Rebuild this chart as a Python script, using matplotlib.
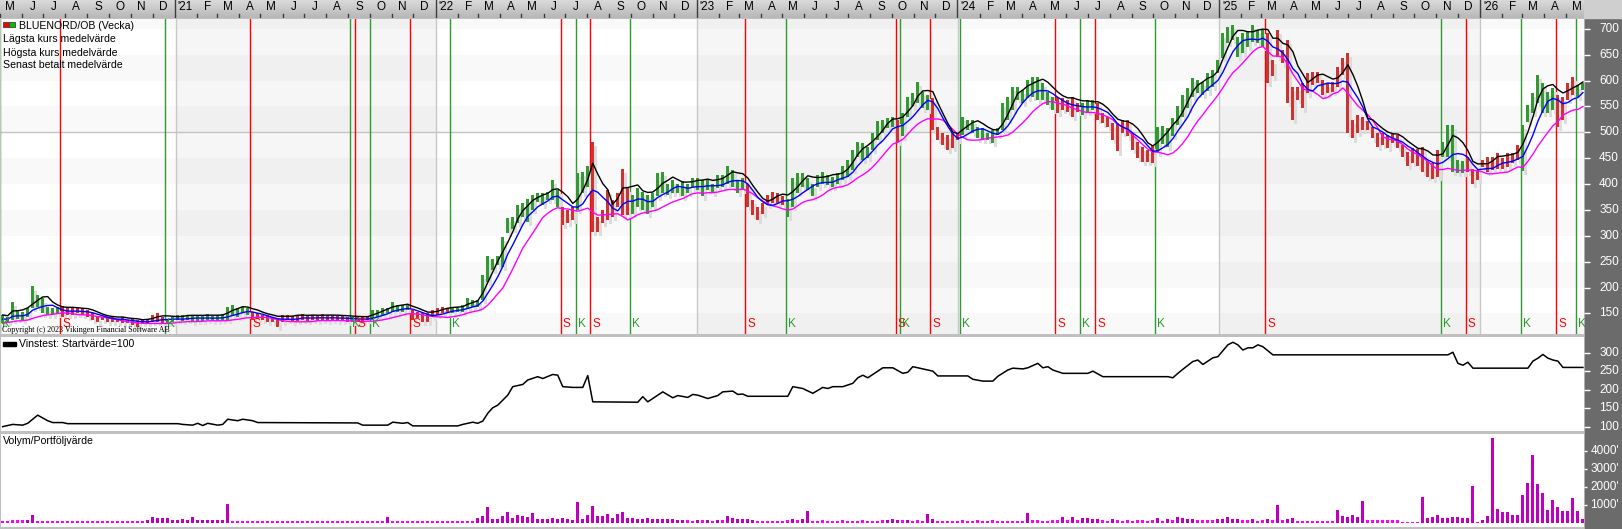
import numpy as np
import pandas as pd
import matplotlib
matplotlib.use('Agg')
import matplotlib.pyplot as plt
import matplotlib.dates as mdates
from matplotlib.patches import Rectangle
from matplotlib.colors import LinearSegmentedColormap
from matplotlib.transforms import blended_transform_factory

plt.rcParams['font.family'] = ['Liberation Sans', 'DejaVu Sans']

########################################
# data (weekly bars)

first_week = '2020-05-04'

low_2020 = [131, 134, 137, 140, 137, 144, 160, 163, 150, 147, 147, 150, 144, 147, 147, 150, 147, 144,
            137, 134, 137, 134, 134, 134, 131, 131, 128, 124, 131, 131, 134, 134, 131, 131, 134]
high_2020 = [147, 144, 173, 157, 153, 160, 202, 186, 179, 163, 160, 163, 164, 160, 160, 160, 160, 157,
             150, 144, 144, 144, 144, 140, 144, 137, 140, 137, 137, 140, 147, 150, 144, 140, 144]

low_2021 = [137, 135, 137, 134, 136, 135, 137, 135, 136, 137, 137, 147, 144, 150, 147, 137, 140, 137,
            134, 134, 124, 134, 137, 134, 136, 137, 135, 137, 136, 137, 135, 137, 136, 135, 134, 134,
            133, 134, 137, 137, 144, 147, 150, 153, 153, 153, 157, 137, 141, 134, 134, 144]
high_2021 = [147, 146, 147, 145, 147, 146, 148, 145, 147, 148, 163, 166, 160, 163, 160, 153, 150, 147,
             147, 144, 140, 147, 147, 145, 147, 148, 145, 147, 146, 148, 146, 147, 145, 146, 144, 144,
             143, 144, 144, 157, 157, 160, 160, 173, 166, 166, 166, 157, 153, 150, 150, 157]

low_2022 = [147, 150, 150, 150, 152, 153, 160, 163, 163, 176, 211, 234, 244, 240, 305, 314, 324, 337,
            327, 350, 366, 360, 369, 369, 356, 321, 324, 331, 350, 382, 395, 308, 308, 324, 331, 337,
            356, 340, 340, 343, 356, 350, 343, 356, 376, 382, 379, 382, 382, 376, 382, 392]
high_2022 = [160, 163, 160, 163, 163, 166, 179, 176, 176, 225, 261, 256, 261, 298, 334, 337, 360, 363,
             372, 379, 382, 382, 385, 408, 388, 356, 350, 356, 421, 424, 434, 482, 337, 350, 388, 369,
             382, 430, 392, 379, 392, 385, 379, 382, 421, 424, 401, 408, 401, 405, 401, 411]

low_2023 = [388, 376, 388, 382, 392, 395, 401, 395, 382, 388, 356, 340, 331, 343, 360, 363, 363, 360,
            337, 356, 382, 395, 389, 376, 395, 401, 398, 395, 401, 408, 414, 427, 453, 446, 450, 466,
            485, 498, 508, 511, 482, 492, 530, 550, 556, 546, 543, 504, 485, 475, 466, 469]
high_2023 = [411, 408, 408, 401, 417, 417, 434, 427, 408, 411, 401, 369, 356, 363, 379, 385, 382, 376,
             372, 411, 421, 421, 411, 401, 417, 424, 417, 414, 421, 434, 446, 466, 482, 479, 472, 498,
             521, 524, 527, 530, 524, 537, 569, 575, 598, 578, 572, 566, 511, 498, 495, 498]

low_2024 = [485, 495, 504, 498, 488, 485, 485, 479, 495, 504, 524, 543, 562, 556, 566, 569, 562, 562,
            553, 543, 537, 543, 540, 530, 540, 533, 540, 543, 524, 517, 511, 485, 463, 498, 492, 466,
            450, 443, 443, 440, 461, 478, 472, 493, 514, 530, 546, 569, 575, 572, 579, 588, 614]
high_2024 = [498, 530, 524, 524, 511, 508, 498, 504, 508, 556, 569, 588, 588, 582, 601, 607, 607, 595,
             578, 569, 569, 566, 562, 569, 556, 556, 562, 562, 556, 537, 530, 517, 517, 524, 524, 498,
             482, 472, 466, 475, 510, 512, 508, 527, 551, 573, 586, 605, 601, 598, 614, 620, 640]

low_2025 = [643, 672, 678, 646, 653, 665, 675, 672, 665, 595, 608, 646, 633, 556, 524, 562, 546, 575,
            591, 595, 572, 575, 578, 588, 611, 498, 488, 498, 504, 504, 488, 472, 475, 469, 479, 469,
            453, 435, 440, 435, 424, 413, 410, 414, 453, 453, 424, 421, 421, 424, 401, 408]
high_2025 = [691, 704, 707, 685, 691, 694, 707, 698, 698, 691, 640, 698, 659, 678, 588, 588, 595, 614,
             617, 617, 601, 595, 598, 627, 643, 653, 524, 533, 530, 521, 511, 498, 498, 495, 498, 495,
             476, 462, 470, 468, 472, 445, 440, 466, 482, 514, 514, 447, 445, 453, 430, 427]

low_2026 = [433, 424, 427, 430, 430, 433, 440, 447, 425, 520, 537, 556, 537, 537, 543, 510, 524, 563,
            572, 568, 582]
high_2026 = [447, 453, 453, 460, 450, 460, 460, 475, 514, 553, 576, 611, 595, 578, 585, 572, 569, 595,
             607, 592, 595]

# weekly volume, thousands of shares
volume_k = [120, 130, 140, 140, 140, 150, 440, 120, 120, 110,
            90, 90, 90, 90, 90, 90, 90, 90, 90, 90, 90, 90, 90, 90, 90, 90, 90, 90, 90,
            170, 350, 260, 300, 300, 170, 170, 220, 170, 350, 170, 150, 150, 160, 150, 150,
            1060, 130,
            90, 90, 90, 90, 90, 90, 90, 90, 90, 90, 90, 90, 90, 90, 90, 90, 90, 90, 90, 90,
            90, 90, 90, 90, 90, 90, 90,
            110, 110, 100, 350,
            90, 90, 90, 90, 90, 90, 90, 90, 90, 90, 90, 90, 90, 90, 90, 90,
            120,
            270, 400, 900, 240, 240, 400, 620, 280, 440, 410, 330, 550, 230, 250, 250, 270, 240, 280,
            200, 180, 1170, 250, 440, 940, 380, 380, 500, 280, 480, 600, 280, 280, 230, 200, 280, 230,
            230, 230, 230, 230,
            150, 150, 140, 120, 150, 140, 150, 130, 150, 140,
            400, 280, 200, 220, 200, 190,
            130, 120, 100, 100, 110, 120,
            140, 220, 140, 220, 660,
            100, 100, 140, 100, 100, 100, 140, 100, 100, 100, 140, 100, 100, 100,
            140, 170, 200, 170, 140, 170, 100, 140, 100, 480, 200,
            100, 100, 100, 100, 100,
            140,
            100, 100, 140, 100, 100, 140, 100,
            100, 100, 100, 100, 100,
            560, 140, 140, 100, 100, 140, 140, 350, 140, 350, 140, 260, 260, 230, 230, 140, 100, 200,
            140, 100,
            140, 100, 140, 140, 100, 140,
            260, 100, 200, 140, 350, 260, 200, 200, 140, 140, 140, 140, 200, 200, 350, 230, 230, 140,
            140, 230, 100, 140, 230, 140,
            1000, 140, 230, 260, 120, 120, 120, 120, 120, 100, 100, 100, 700, 400, 350, 420, 350, 1240,
            140, 140, 140, 140, 140, 140, 140,
            80, 80, 80, 80,
            1470,
            260, 350, 440, 260, 260, 350, 350, 300, 300,
            2070,
            80, 160, 400,
            4740, 780, 620, 620, 440, 440, 1560, 2240, 3780, 2170, 1680, 700, 1260, 880, 660, 660,
            1390, 660, 250]

# Vinstest (start value 100): week index and value at each break of the curve
vin_week = [0, 2, 4, 5, 7, 9, 10, 12, 13, 35,
            36, 38, 39, 40, 41, 43, 44, 45, 47, 48,
            50, 51, 71, 72, 77, 78, 80, 81, 82, 91,
            92, 94, 95, 96, 97, 98, 99, 101, 102, 104,
            105, 107, 108, 110, 111, 112, 114, 116, 117, 118,
            127, 128, 129, 130, 132, 134, 135, 137, 138, 139,
            141, 143, 144, 146, 147, 148, 149, 157, 158, 160,
            162, 164, 165, 166, 168, 170, 171, 172, 173, 175,
            176, 178, 180, 181, 182, 184, 186, 187, 193, 194,
            196, 198, 199, 201, 202, 204, 205, 207, 208, 209,
            210, 212, 217, 218, 220, 233, 234, 235, 236, 238,
            239, 240, 242, 243, 245, 246, 247, 248, 249, 250,
            251, 252, 254, 289, 290, 291, 292, 293, 294, 305,
            306, 307, 308, 309, 310, 311, 312, 316]
vin_value = [101, 107, 105, 110, 132, 117, 112, 112, 109, 109,
             107, 105, 110, 104, 110, 105, 107, 121, 117, 121,
             117, 112, 111, 105, 105, 113, 110, 112, 103, 103,
             107, 113, 110, 116, 137, 152, 159, 186, 209, 215,
             227, 236, 231, 242, 240, 209, 207, 207, 239, 168,
             167, 182, 168, 177, 195, 179, 185, 180, 188, 186,
             177, 185, 195, 197, 188, 189, 183, 183, 209, 204,
             191, 207, 204, 209, 209, 218, 233, 240, 233, 251,
             260, 260, 245, 248, 263, 257, 251, 238, 238, 229,
             224, 224, 237, 254, 259, 257, 260, 272, 260, 263,
             254, 245, 245, 251, 236, 236, 233, 245, 256, 277,
             281, 269, 287, 290, 322, 329, 322, 308, 314, 314,
             322, 317, 295, 295, 302, 272, 267, 275, 259, 259,
             278, 286, 296, 286, 281, 278, 261, 261]

# buy (K) / sell (S) signals
signal_dates = ['2020-04-30 12:00', '2020-07-23 00:00', '2020-12-17 00:00', '2021-04-15 00:00',
                '2021-09-02 00:00', '2021-09-09 00:00', '2021-09-30 00:00', '2021-11-25 00:00',
                '2022-01-20 00:00', '2022-06-24 00:00', '2022-07-15 00:00', '2022-08-04 00:00',
                '2022-09-29 00:00', '2023-03-09 00:00', '2023-05-05 00:00', '2023-10-06 00:00',
                '2023-10-12 00:00', '2023-11-23 00:00', '2024-01-04 00:00', '2024-05-16 00:00',
                '2024-06-20 00:00', '2024-07-11 00:00', '2024-10-03 00:00', '2025-03-06 00:00',
                '2025-11-07 00:00', '2025-12-12 00:00', '2026-02-27 00:00', '2026-04-17 00:00',
                '2026-05-15 00:00']
signal_types = ['K', 'S', 'K', 'S', 'K', 'S', 'K', 'S', 'K', 'S', 'K', 'S', 'K', 'S', 'K',
                'S', 'K', 'S', 'K', 'S', 'K', 'S', 'K', 'S', 'K', 'S', 'K', 'S', 'K']

# moving average lengths (weeks) for high, last paid and low
ma_weeks_high = 4
ma_weeks_last = 5
ma_weeks_low = 8

price_ticks = [150, 200, 250, 300, 350, 400, 450, 500, 550, 600, 650, 700]
vin_ticks = [100, 150, 200, 250, 300]
vol_ticks = [1000, 2000, 3000, 4000]
vol_tick_labels = ["1000'", "2000'", "3000'", "4000'"]
month_letters = ['J', 'F', 'M', 'A', 'M', 'J', 'J', 'A', 'S', 'O', 'N', 'D']

########################################
# prepare

lows = np.array(low_2020 + low_2021 + low_2022 + low_2023 + low_2024 + low_2025 + low_2026, float)
highs = np.array(high_2020 + high_2021 + high_2022 + high_2023 + high_2024 + high_2025 + high_2026, float)
n = len(lows)
dates = pd.date_range(first_week, periods=n, freq='7D')
x = mdates.date2num(dates)

GREEN = '#339933'
RED = '#cc3333'
SIG_GREEN = '#2f9a2f'
SIG_RED = '#ff0000'

sig_x = mdates.date2num(pd.to_datetime(signal_dates, format='%Y-%m-%d %H:%M'))
state = np.array(signal_types)[np.searchsorted(sig_x, x, side='right') - 1]
bar_col = np.where(state == 'K', GREEN, RED)

ma_high = pd.Series(highs).rolling(ma_weeks_high, min_periods=1).mean()
ma_low = pd.Series(lows).rolling(ma_weeks_low, min_periods=1).mean()
ma_mid = pd.Series((highs + lows) / 2).rolling(ma_weeks_last, min_periods=1).mean()

W, H = 1622, 529
fig = plt.figure(figsize=(W / 100, H / 100), dpi=100, facecolor='#c0c0c0')

def px_axes(left, top, right, bottom):
    return fig.add_axes([left / W, 1 - bottom / H, (right - left) / W, (bottom - top) / H])

x0 = mdates.date2num(pd.Timestamp('2020-05-01 16:00'))
x1 = mdates.date2num(pd.Timestamp('2026-05-26 12:00'))
day_px = (1584 - 1) / (x1 - x0)

# right dark panel and top right corner
fig.add_artist(Rectangle((1585 / W, 0), (W - 1585) / W, 1 - 18 / H, transform=fig.transFigure,
                         color='#6b6b6b', zorder=-1))
fig.add_artist(Rectangle((1584 / W, 1 - 18 / H), (W - 1584) / W, 18 / H, transform=fig.transFigure,
                         color='#cfcfcf', zorder=-1))

########################################
# month strip
strip = px_axes(0, 0, 1584, 18)
strip.set_xlim(x0, x1)
strip.set_ylim(0, 1)
strip.imshow(np.linspace(0, 1, 20).reshape(-1, 1), extent=[x0, x1, 0, 1], aspect='auto',
             cmap=LinearSegmentedColormap.from_list('strip', ['#d9d9d9', '#b8b8b8']))
strip.axis('off')
months = pd.date_range('2020-05-01', '2026-05-01', freq='MS')
for m in months:
    xm = mdates.date2num(m)
    mid = mdates.date2num(m + pd.Timedelta(days=15))
    if m.month == 1:
        lab = "'" + m.strftime('%y')
        strip.plot([xm, xm], [0, 1], color='#3c3c3c', lw=1)
    else:
        lab = month_letters[m.month - 1]
        strip.plot([xm, xm], [0, 0.25], color='#3c3c3c', lw=1)
    strip.text(mid, 0.6, lab, ha='center', va='center', fontsize=8.5, color='black')

########################################
# price panel
ax = px_axes(1, 19, 1584, 334)
ax.set_facecolor('white')
ax.set_xlim(x0, x1)
ax.set_ylim(110.2, 718.9)
for lo in range(100, 750, 100):
    ax.axhspan(lo, lo + 50, color='black', alpha=0.025, lw=0, zorder=0)
for yr in [2021, 2023, 2025]:
    ax.axvspan(mdates.date2num(pd.Timestamp(f'{yr}-01-01')), mdates.date2num(pd.Timestamp(f'{yr + 1}-01-01')),
               color='black', alpha=0.035, lw=0, zorder=0)
for yr in range(2021, 2027):
    ax.axvline(mdates.date2num(pd.Timestamp(f'{yr}-01-01')), color='#c8c8c8', lw=1, zorder=0.5)
ax.axhline(500, color='#c4c4c4', lw=1, zorder=0.5)

lab_tr = blended_transform_factory(ax.transData, ax.transAxes)
for sx, st in zip(sig_x, signal_types):
    c = SIG_GREEN if st == 'K' else SIG_RED
    ax.axvline(sx, color=c, lw=1, zorder=1)
    ax.annotate(st, xy=(sx, 0.032), xycoords=lab_tr, xytext=(1.6, 0), textcoords='offset points',
                ha='left', va='center', fontsize=8.5, color=c, zorder=5)

bw = 3.0 / day_px
ax.bar(x + 3.0 / day_px, highs - lows, bottom=lows - 8, width=bw, color='#dcdcdc', lw=0, zorder=2)
ax.bar(x, highs - lows, bottom=lows, width=bw, color=bar_col, lw=0, zorder=3)

ax.plot(x, ma_low, color='#ff00ff', lw=1, zorder=4)
ax.plot(x, ma_mid, color='#0000ff', lw=1, zorder=4)
ax.plot(x, ma_high, color='black', lw=1, zorder=4)

########################################
# vinstest panel
ax2 = px_axes(1, 337, 1584, 431)
ax2.set_facecolor('white')
ax2.set_xlim(x0, x1)
ax2.set_ylim(89.2, 343.2)
ax2.plot(x[vin_week], vin_value, color='black', lw=1.1)

########################################
# volume panel
ax3 = px_axes(1, 434, 1584, 527)
ax3.set_facecolor('white')
ax3.set_xlim(x0, x1)
ax3.set_ylim(-222, 4944)
vol = np.array(volume_k, float)
vol_col = np.where(vol < 150, '#ff00ff', '#c000c0')
ax3.bar(x, vol, width=3.0 / day_px, color=vol_col, lw=0)

########################################
# axes cosmetics and right hand labels
for a, ticks, labels, tl in [(ax, price_ticks, [str(t) for t in price_ticks], 4),
                             (ax2, vin_ticks, [str(t) for t in vin_ticks], 4),
                             (ax3, vol_ticks, vol_tick_labels, 2.2)]:
    for s in a.spines.values():
        s.set_visible(False)
    a.set_xticks([])
    a.yaxis.set_ticks_position('right')
    a.set_yticks(ticks)
    a.tick_params(axis='y', direction='out', length=tl, width=1, color='white',
                  labelright=False, labelleft=False)
    tr = blended_transform_factory(fig.transFigure, a.transData)
    for t, l in zip(ticks, labels):
        a.text(1619 / W, t, l, transform=tr, ha='right', va='center', fontsize=8.5,
               color='white', clip_on=False)

########################################
# overlay texts
def fx(px):
    return px / W

def fy(py):
    return 1 - py / H

fig.add_artist(Rectangle((fx(3.3), fy(27.5)), 6 / W, 5.2 / H, transform=fig.transFigure,
                         facecolor='#ff0000', edgecolor='#404040', lw=0.6, zorder=10))
fig.add_artist(Rectangle((fx(9.3), fy(27.5)), 6 / W, 5.2 / H, transform=fig.transFigure,
                         facecolor='#00c000', edgecolor='#404040', lw=0.6, zorder=10))
fig.text(fx(19), fy(26), 'BLUENORD/OB (Vecka)', fontsize=7.6, va='center', ha='left')
fig.text(fx(3), fy(39.5), 'Lägsta kurs medelvärde', fontsize=7.6, va='center', ha='left')
fig.text(fx(3), fy(52.5), 'Högsta kurs medelvärde', fontsize=7.6, va='center', ha='left')
fig.text(fx(3), fy(65), 'Senast betalt medelvärde', fontsize=7.6, va='center', ha='left')
fig.text(fx(2), fy(330.5), 'Copyright (c) 2023 Vikingen Financial Software AB', fontsize=5.8,
         family=['Liberation Serif', 'DejaVu Serif'], va='center', ha='left')

fig.add_artist(Rectangle((fx(3.3), fy(346)), 12.7 / W, 4.5 / H, transform=fig.transFigure,
                         color='black', zorder=10))
fig.text(fx(19), fy(344), 'Vinstest: Startvärde=100', fontsize=7.6, va='center', ha='left')
fig.text(fx(3), fy(440.5), 'Volym/Portföljvärde', fontsize=7.6, va='center', ha='left')

fig.savefig('out.png', dpi=100, facecolor=fig.get_facecolor())
